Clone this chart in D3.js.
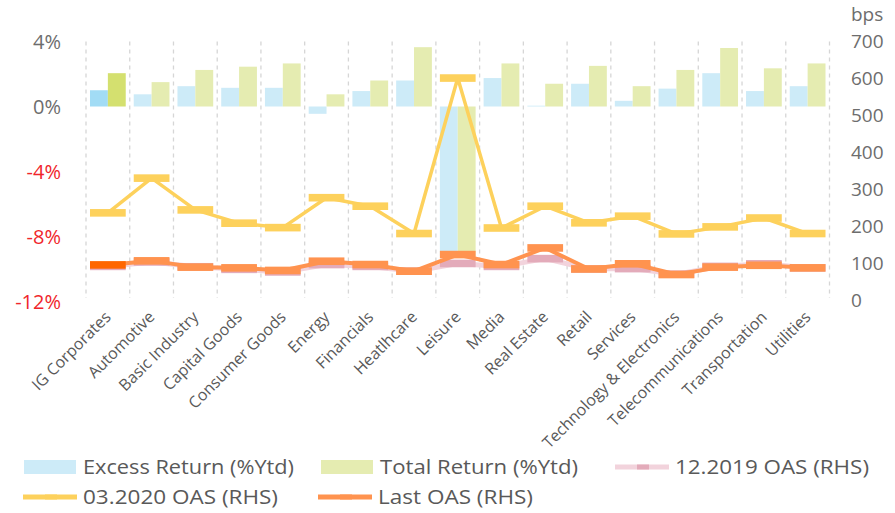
<!DOCTYPE html>
<html>
<head>
<meta charset="utf-8">
<script src="https://cdn.jsdelivr.net/npm/d3@7"></script>
<style>
  body { margin: 0; background: #fff; }
  svg text { font-family: "Open Sans", sans-serif; fill: #595959; }
</style>
</head>
<body>
<svg id="chart" width="895" height="513"></svg>
<script>
// sectors, left to right
var categories = ["IG Corporates", "Automotive", "Basic Industry", "Capital Goods", "Consumer Goods",
    "Energy", "Financials", "Heatlhcare", "Leisure", "Media", "Real Estate", "Retail", "Services",
    "Technology & Electronics", "Telecommunications", "Transportation", "Utilities"];

// returns, % ytd (left axis)
var excessReturn = [1.0, 0.75, 1.25, 1.15, 1.15, -0.45, 0.95, 1.6, -9.2, 1.75, 0.05, 1.4, 0.35, 1.1, 2.05, 0.95, 1.25];
var totalReturn  = [2.05, 1.5, 2.25, 2.45, 2.65, 0.75, 1.6, 3.65, -9.2, 2.65, 1.4, 2.5, 1.25, 2.25, 3.6, 2.35, 2.65];

// spreads, bps (right axis)
var oasDec2019 = [91, 103, 90, 83, 76, 96, 91, 78, 99, 91, 112, 84, 85, 70, 91, 98, 87];
var oasMar2020 = [236, 330, 244, 208, 196, 277, 254, 180, 601, 195, 254, 209, 227, 179, 198, 222, 180];
var oasLast    = [95, 106, 89, 87, 80, 105, 96, 78, 123, 96, 141, 84, 98, 69, 89, 94, 87];

var leftTicks = [4, 0, -4, -8, -12];
var rightTicks = [0, 100, 200, 300, 400, 500, 600, 700];

var svg = d3.select("#chart");

var x = d3.scaleBand().domain(categories).range([86, 829.5]).padding(0);
var xs = d3.scaleBand().domain(["excess", "total"]).range([0, x.bandwidth()]).paddingOuter(0.224);
var yL = d3.scaleLinear().domain([-12, 4]).range([301.5, 41.5]);
var yR = d3.scaleLinear().domain([0, 700]).range([300, 41.5]);

// dashed separators between sectors
var bounds = categories.map(function (c) { return x(c); }).concat([x.range()[1]]);
svg.append("g").selectAll("line").data(bounds).join("line")
    .attr("x1", function (d) { return d; }).attr("x2", function (d) { return d; })
    .attr("y1", 41.5).attr("y2", 298)
    .attr("stroke", "#d6d6d6").attr("stroke-width", 1.3).attr("stroke-dasharray", "4,4");

// bars
function drawBars(vals, key, col, colFirst) {
    svg.append("g").selectAll("rect").data(vals).join("rect")
        .attr("x", function (d, i) { return x(categories[i]) + xs(key); })
        .attr("width", xs.bandwidth())
        .attr("y", function (d) { return yL(Math.max(0, d)); })
        .attr("height", function (d) { return Math.abs(yL(d) - yL(0)); })
        .attr("fill", function (d, i) { return i === 0 ? colFirst : col; });
}
drawBars(excessReturn, "excess", "#cdebf8", "#a2dcf5");
drawBars(totalReturn, "total", "#e5ecb1", "#d4e06f");

// lines with wide dash markers
var mx0 = xs("excess"), mw = xs.bandwidth() * 2;
function drawLine(vals, lineCol, lineW, markCol, markFirst) {
    var line = d3.line()
        .x(function (d, i) { return x(categories[i]) + x.bandwidth() / 2; })
        .y(function (d) { return yR(d); });
    svg.append("path").datum(vals).attr("d", line)
        .attr("fill", "none").attr("stroke", lineCol).attr("stroke-width", lineW)
        .attr("stroke-linejoin", "round");
    svg.append("g").selectAll("rect").data(vals).join("rect")
        .attr("x", function (d, i) { return x(categories[i]) + mx0; })
        .attr("width", mw)
        .attr("y", function (d) { return yR(d) - 3.8; })
        .attr("height", 7.6)
        .attr("fill", function (d, i) { return i === 0 && markFirst ? markFirst : markCol; });
}
drawLine(oasDec2019, "#f2d3dc", 5, "#e3abba");
drawLine(oasMar2020, "#fdd15c", 3.5, "#fdd15c");
drawLine(oasLast, "#ff934f", 4, "#ff934f", "#ff6600");

// left axis
svg.append("g").selectAll("text").data(leftTicks).join("text")
    .attr("x", 61).attr("y", function (d) { return yL(d); })
    .attr("dy", "0.35em").attr("text-anchor", "end")
    .style("font-size", "20px")
    .style("fill", function (d) { return d < 0 ? "#f0262b" : "#6d6d6d"; })
    .text(function (d) { return d + "%"; });

// right axis
svg.append("g").selectAll("text").data(rightTicks).join("text")
    .attr("x", 851).attr("y", function (d) { return yR(d); })
    .attr("dy", "0.35em")
    .style("font-size", "19px").style("fill", "#6d6d6d")
    .text(function (d) { return d; });
svg.append("text").attr("x", 851).attr("y", 14).attr("dy", "0.35em")
    .style("font-size", "19px").style("fill", "#6d6d6d").text("bps");

// sector labels
svg.append("g").selectAll("text").data(categories).join("text")
    .attr("transform", function (d) {
        return "translate(" + (x(d) + x.bandwidth() / 2 + 4) + ",318) rotate(-45)";
    })
    .attr("text-anchor", "end")
    .style("font-size", "16px")
    .text(function (d) { return d; });

// legend
var legendItems = [
    {name: "Excess Return (%Ytd)", type: "box", col: "#cdebf8", x: 24, y: 467, w: 211},
    {name: "Total Return (%Ytd)", type: "box", col: "#e5ecb1", x: 321, y: 467, w: 198},
    {name: "12.2019 OAS (RHS)", type: "line", col: "#f2d3dc", mark: "#e3abba", x: 615, y: 467, w: 194},
    {name: "03.2020 OAS (RHS)", type: "line", col: "#fdd15c", mark: "#fdd15c", x: 23, y: 497, w: 195},
    {name: "Last OAS (RHS)", type: "line", col: "#ff934f", mark: "#ff934f", x: 318, y: 497, w: 155}
];
var lg = svg.append("g").selectAll("g").data(legendItems).join("g")
    .attr("transform", function (d) { return "translate(" + d.x + "," + d.y + ")"; });
lg.filter(function (d) { return d.type === "box"; }).append("rect")
    .attr("x", 0).attr("y", -7).attr("width", 52).attr("height", 14)
    .attr("fill", function (d) { return d.col; });
lg.filter(function (d) { return d.type === "line"; }).append("rect")
    .attr("x", 0).attr("y", -2.5).attr("width", 54).attr("height", 5)
    .attr("fill", function (d) { return d.col; });
lg.filter(function (d) { return d.type === "line"; }).append("rect")
    .attr("x", 22).attr("y", -2.5).attr("width", 12).attr("height", 5)
    .attr("fill", function (d) { return d.mark; });
lg.append("text")
    .attr("x", function (d) { return d.type === "box" ? 59 : 60; })
    .attr("dy", "0.35em")
    .attr("textLength", function (d) { return d.w; })
    .attr("lengthAdjust", "spacingAndGlyphs")
    .style("font-size", "20px")
    .text(function (d) { return d.name; });
</script>
</body>
</html>
